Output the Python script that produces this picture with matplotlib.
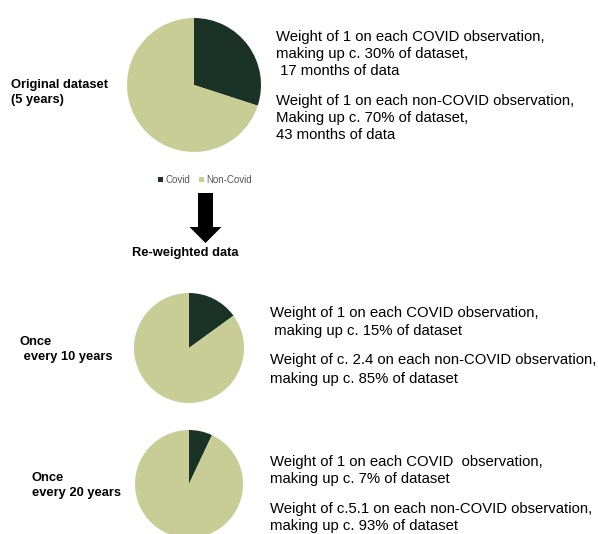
import matplotlib
matplotlib.use("Agg")
import matplotlib.pyplot as plt
from matplotlib.patches import FancyArrow

plt.rcParams['font.family'] = ['Liberation Sans', 'DejaVu Sans']

# Shares of the dataset (%) for COVID vs non-COVID observations
categories = ["Covid", "Non-Covid"]
original_share = [30, 70]
every10_share = [15, 85]
every20_share = [7, 93]

colors = ["#1b3326", "#c8cd96"]

W, H = 598, 534
fig = plt.figure(figsize=(W / 100, H / 100), dpi=100)

# Full-figure overlay in pixel coordinates for text and the arrow
ov = fig.add_axes([0, 0, 1, 1])
ov.set_xlim(0, W)
ov.set_ylim(H, 0)
ov.axis("off")


def pie_at(cx, cy, r, shares):
    ax = fig.add_axes([(cx - r) / W, (H - cy - r) / H, 2 * r / W, 2 * r / H])
    wedges, _ = ax.pie(shares, colors=colors, startangle=90, counterclock=False,
                       wedgeprops=dict(linewidth=0))
    for w in wedges:
        w.set_clip_on(False)
    ax.set_xlim(-1, 1)
    ax.set_ylim(-1, 1)
    ax.set_aspect("equal")
    ax.axis("off")
    return wedges


wedges = pie_at(194, 85, 67, original_share)
pie_at(189, 348, 55, every10_share)
pie_at(189, 484, 54, every20_share)

# Legend under the first pie
fig.legend(wedges, categories, loc="center", bbox_to_anchor=(205 / W, 1 - 180 / H),
           ncol=2, frameon=False, fontsize=7, handlelength=0.55, handleheight=0.55,
           handletextpad=0.2, columnspacing=0.9, labelcolor="#555555")

# Down arrow
ov.add_patch(FancyArrow(205.5, 193, 0, 50, width=15, head_width=32, head_length=16,
                        length_includes_head=True, color="black", linewidth=0))

bold = dict(fontsize=9.3, fontweight="bold", va="center", color="black")
ov.text(11, 85, "Original dataset", **bold)
ov.text(11, 100, "(5 years)", **bold)
ov.text(185, 253, "Re-weighted data", ha="center", **bold)
ov.text(20, 342, "Once", **bold)
ov.text(20, 357, " every 10 years", **bold)
ov.text(32, 478, "Once", **bold)
ov.text(32, 493, "every 20 years", **bold)

reg = dict(fontsize=10.7, va="center", color="black")
lines = [
    (276, 37, "Weight of 1 on each COVID observation,"),
    (276, 54, "making up c. 30% of dataset,"),
    (276, 71, " 17 months of data"),
    (276, 101, "Weight of 1 on each non-COVID observation,"),
    (276, 118, "Making up c. 70% of dataset,"),
    (276, 135, "43 months of data"),
    (270, 313, "Weight of 1 on each COVID observation,"),
    (270, 331, " making up c. 15% of dataset"),
    (270, 360, "Weight of c. 2.4 on each non-COVID observation,"),
    (270, 379, "making up c. 85% of dataset"),
    (270, 462, "Weight of 1 on each COVID  observation,"),
    (270, 479, "making up c. 7% of dataset"),
    (270, 509, "Weight of c.5.1 on each non-COVID observation,"),
    (270, 526, "making up c. 93% of dataset"),
]
for x, y, s in lines:
    ov.text(x, y, s, **reg)

fig.savefig("out.png", dpi=100)
